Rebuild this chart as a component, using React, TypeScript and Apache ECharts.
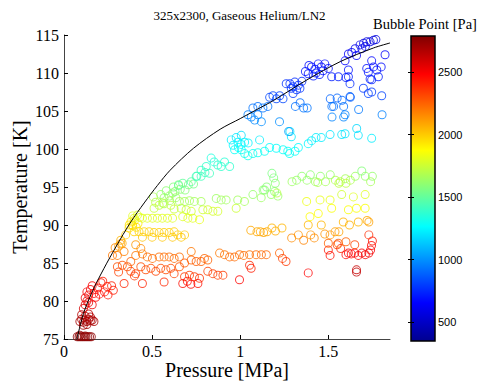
import React, { useEffect, useRef } from 'react';
import * as echarts from 'echarts';

type Pt = [number, number, number]; // [pressure MPa, temperature K, bubble point Pa]

const chartTitle = '325x2300, Gaseous Helium/LN2';
const colorbarTitle = 'Bubble Point [Pa]';
const xAxisName = 'Pressure [MPa]';
const yAxisName = 'Temperature [K]';

const pressureTicks = [0, 0.5, 1, 1.5];
const colorbarTicks = [500, 1000, 1500, 2000, 2500];
const bubbleMin = 348;
const bubbleMax = 2788;
const jetColors = ['#00008F', '#0000FF', '#0080FF', '#00FFFF', '#80FF80', '#FFFF00', '#FF8000', '#FF0000', '#800000'];

// saturation curve
const curveP = [0.072, 0.114, 0.17, 0.227, 0.294, 0.379, 0.455, 0.53, 0.602, 0.735, 0.886, 1.0, 1.095, 1.19, 1.379, 1.568, 1.757, 1.85];
const curveT = [74.9, 78.6, 81.7, 84.3, 87.1, 90.4, 92.9, 95.2, 97.2, 100.1, 102.6, 104.0, 105.2, 106.4, 109.1, 111.5, 113.3, 113.95];

const band75K: Pt[] = [
  [0.075, 75.3, 2760], [0.085, 75.3, 2760], [0.095, 75.3, 2760], [0.105, 75.3, 2760], [0.115, 75.3, 2760],
  [0.125, 75.3, 2760], [0.135, 75.3, 2750], [0.145, 75.3, 2750], [0.155, 75.3, 2750], [0.09, 75.5, 2740], [0.12, 75.4, 2740],
];

const band77K: Pt[] = [
  [0.09, 77.3, 2700], [0.1, 77.6, 2690], [0.11, 77.2, 2700], [0.12, 77.5, 2690], [0.13, 77.3, 2700],
  [0.14, 77.6, 2680], [0.15, 77.4, 2690], [0.16, 77.5, 2680], [0.17, 77.3, 2690], [0.1, 78.2, 2660],
  [0.12, 78.0, 2660], [0.14, 78.3, 2650], [0.11, 76.8, 2710], [0.13, 76.9, 2710], [0.15, 77.9, 2670],
];

const band80K: Pt[] = [
  [0.11, 79.0, 2580], [0.12, 79.5, 2560], [0.13, 80.0, 2540], [0.12, 80.4, 2530], [0.14, 80.8, 2520],
  [0.13, 81.2, 2510], [0.15, 81.5, 2500], [0.16, 82.0, 2490], [0.14, 79.8, 2540], [0.17, 81.0, 2480],
  [0.19, 81.7, 2450], [0.21, 82.4, 2430], [0.23, 81.2, 2440], [0.25, 80.8, 2440], [0.27, 82.0, 2410],
  [0.28, 81.4, 2420], [0.22, 82.6, 2420], [0.18, 80.5, 2480], [0.16, 79.5, 2520], [0.2, 80.9, 2460], [0.245, 81.9, 2430],
];

const band83K: Pt[] = [
  [0.303, 84.5, 2300], [0.331, 84.7, 2290], [0.36, 84.5, 2300], [0.379, 83.9, 2320], [0.407, 83.6, 2330],
  [0.436, 84.5, 2300], [0.464, 84.1, 2310], [0.493, 84.3, 2300], [0.521, 83.9, 2320], [0.549, 84.3, 2300],
  [0.578, 84.1, 2310], [0.606, 84.3, 2300], [0.341, 82.3, 2400], [0.445, 82.3, 2400], [0.568, 82.5, 2390],
  [0.625, 83.6, 2330], [0.4, 83.3, 2340], [0.31, 83.8, 2330], [0.655, 84.5, 2280], [0.684, 83.2, 2350],
  [0.712, 83.4, 2340], [0.74, 83.2, 2350], [0.769, 83.0, 2360], [0.674, 82.3, 2450], [0.76, 82.3, 2450],
  [0.816, 83.9, 2330], [0.845, 83.6, 2340], [0.873, 83.4, 2340], [0.902, 83.4, 2340], [0.996, 82.8, 2470],
  [0.72, 82.2, 2460], [0.7, 82.6, 2440], [1.053, 84.7, 2380], [1.062, 84.3, 2420], [1.386, 83.7, 2480],
  [1.66, 84.1, 2620], [1.66, 83.8, 2630],
];

const band86K: Pt[] = [
  [0.275, 86.0, 2200], [0.303, 86.0, 2200], [0.341, 86.5, 2180], [0.379, 85.2, 2250], [0.407, 86.0, 2200],
  [0.436, 86.9, 2150], [0.445, 86.2, 2200], [0.473, 85.8, 2220], [0.502, 85.6, 2230], [0.54, 85.8, 2220],
  [0.568, 85.8, 2220], [0.597, 85.8, 2220], [0.625, 85.6, 2230], [0.407, 87.4, 2120], [0.29, 87.0, 2150],
  [0.32, 87.5, 2120], [0.655, 85.8, 2220], [0.684, 85.0, 2270], [0.722, 86.5, 2200], [0.722, 85.4, 2250],
  [0.75, 85.2, 2260], [0.778, 85.2, 2260], [0.797, 85.6, 2240], [0.816, 85.4, 2250], [0.883, 86.3, 2200],
  [0.911, 86.1, 2210], [0.94, 85.8, 2230], [0.968, 85.8, 2230], [0.996, 86.1, 2220], [1.02, 86.0, 2220],
  [1.053, 86.1, 2220], [1.09, 86.1, 2230], [1.12, 86.1, 2230], [1.148, 86.1, 2240], [1.223, 86.3, 2250],
  [1.24, 85.6, 2330], [1.26, 85.2, 2350], [1.5, 86.7, 2420], [1.51, 86.0, 2450], [1.55, 87.4, 2330],
  [1.57, 86.9, 2380], [1.614, 86.3, 2480], [1.65, 86.3, 2490], [1.69, 86.3, 2500], [1.73, 86.3, 2520],
  [1.74, 86.7, 2500], [1.745, 87.3, 2470], [1.75, 87.9, 2430], [1.73, 88.7, 2380], [1.6, 86.1, 2470],
  [1.63, 86.2, 2480], [1.67, 86.0, 2500], [1.71, 86.1, 2510],
];

const band89K: Pt[] = [
  [0.322, 88.0, 2050], [0.35, 88.7, 2000], [0.369, 89.6, 1960], [0.388, 90.0, 1940], [0.398, 89.1, 1980],
  [0.426, 89.1, 1980], [0.455, 89.1, 1980], [0.483, 89.1, 1980], [0.511, 89.0, 1990], [0.54, 89.0, 1990],
  [0.568, 89.0, 1990], [0.597, 89.0, 1990], [0.625, 89.1, 1980], [0.445, 88.4, 2010], [0.5, 88.4, 2010],
  [0.558, 88.4, 2010], [0.616, 88.4, 2010], [0.646, 88.7, 2000], [0.665, 88.4, 2010], [0.684, 88.7, 2000],
  [0.38, 90.4, 1920], [0.39, 89.9, 1950], [0.4, 90.6, 1920], [0.41, 89.7, 1950], [0.42, 90.2, 1930],
  [0.37, 90.0, 1940], [0.33, 87.6, 2080], [0.31, 87.2, 2100],
  [1.06, 89.3, 2080], [1.095, 89.1, 2080], [1.114, 89.1, 2080], [1.133, 89.0, 2090], [1.152, 89.1, 2080],
  [1.18, 89.6, 2050], [1.2, 89.2, 2070], [1.237, 89.6, 2050], [1.292, 88.3, 2150], [1.33, 88.7, 2130],
  [1.36, 88.0, 2170], [1.386, 90.0, 2050], [1.4, 88.7, 2130], [1.42, 88.3, 2150], [1.46, 90.0, 2050],
  [1.48, 88.8, 2130], [1.51, 88.7, 2130], [1.538, 89.1, 2100], [1.56, 89.1, 2100], [1.585, 90.4, 2050],
  [1.62, 90.0, 2060], [1.67, 90.4, 2050], [1.72, 90.6, 2080], [1.73, 90.4, 2100], [1.5, 87.6, 2250],
  [1.557, 87.6, 2250], [1.6, 87.8, 2250], [1.65, 87.4, 2320],
];

const band91K: Pt[] = [
  [0.398, 90.9, 1800], [0.417, 91.3, 1790], [0.445, 90.9, 1800], [0.473, 90.9, 1800], [0.502, 90.9, 1800],
  [0.53, 90.9, 1800], [0.558, 90.9, 1800], [0.587, 90.9, 1800], [0.616, 90.9, 1800], [0.43, 91.0, 1800],
  [0.39, 91.2, 1800], [0.511, 92.2, 1740], [0.54, 92.6, 1720], [0.568, 92.8, 1700], [0.606, 92.6, 1720],
  [0.625, 92.1, 1740], [0.665, 92.2, 1740], [0.693, 92.0, 1750], [0.722, 91.8, 1760], [0.674, 91.1, 1790],
  [0.703, 90.9, 1800], [0.731, 90.9, 1800], [0.769, 90.7, 1820], [0.788, 92.0, 1760], [0.816, 92.0, 1760],
  [0.845, 91.8, 1770], [0.873, 91.8, 1770], [0.977, 92.2, 1750],
  [1.396, 91.1, 1880], [1.443, 91.5, 1870], [1.519, 92.2, 1860], [1.614, 92.0, 1860], [1.66, 92.2, 1860],
  [1.709, 92.2, 1860], [1.377, 93.1, 1830], [1.453, 93.3, 1820], [1.51, 93.3, 1820], [1.576, 94.0, 1760],
  [1.642, 93.7, 1800], [1.709, 94.0, 1800],
];

const band94K: Pt[] = [
  [0.549, 94.0, 1620], [0.568, 93.6, 1640], [0.597, 93.8, 1630], [0.616, 94.2, 1610], [0.635, 93.6, 1640],
  [0.507, 93.7, 1680], [0.621, 95.0, 1580], [0.65, 95.3, 1560], [0.66, 94.7, 1590], [0.687, 94.6, 1590],
  [0.706, 95.3, 1560], [0.735, 95.4, 1550], [0.52, 93.0, 1700], [0.56, 92.9, 1690], [0.6, 93.2, 1660],
  [0.58, 94.5, 1600], [0.63, 94.4, 1600], [0.655, 93.1, 1660], [0.684, 93.1, 1660], [0.712, 93.2, 1650],
  [0.74, 93.1, 1660], [0.778, 93.1, 1660], [0.864, 93.5, 1640], [0.892, 93.3, 1650], [0.92, 93.3, 1650],
  [0.986, 93.3, 1650], [1.024, 93.1, 1660], [1.072, 94.0, 1620], [1.119, 93.6, 1640], [1.138, 94.6, 1600],
  [1.176, 94.0, 1620], [1.195, 94.4, 1600], [1.214, 93.8, 1630], [1.13, 94.6, 1600], [1.15, 95.0, 1590],
  [1.208, 94.2, 1700],
];

const band96K: Pt[] = [
  [1.18, 96.8, 1560], [1.19, 96.2, 1580], [1.199, 95.5, 1600], [1.294, 95.7, 1640], [1.32, 95.9, 1630],
  [1.35, 96.4, 1610], [1.379, 95.9, 1630], [1.398, 96.6, 1600], [1.427, 95.7, 1640], [1.455, 96.4, 1610],
  [1.484, 95.7, 1660], [1.511, 96.6, 1620], [1.54, 95.9, 1680], [1.568, 95.7, 1700], [1.597, 96.1, 1660],
  [1.625, 95.9, 1680], [1.653, 96.4, 1640], [1.69, 97.1, 1580], [1.71, 96.4, 1620], [1.74, 95.7, 1660],
  [1.75, 96.4, 1620], [1.44, 95.6, 1680], [1.56, 95.5, 1710], [1.6, 95.5, 1710],
  [0.75, 96.4, 1420], [0.778, 97.2, 1400], [0.807, 97.7, 1390], [0.835, 98.8, 1340], [0.852, 98.3, 1360],
  [0.873, 97.9, 1380], [0.892, 97.7, 1390], [0.911, 98.3, 1360], [0.94, 97.7, 1380], [0.826, 96.8, 1420],
  [0.778, 96.4, 1430], [0.722, 95.7, 1480], [0.674, 95.5, 1500], [0.65, 95.2, 1520], [0.754, 96.4, 1430],
  [0.8, 96.9, 1410],
];

const band100K: Pt[] = [
  [0.949, 101.2, 1220], [0.977, 101.5, 1210], [1.006, 101.8, 1190], [0.987, 100.9, 1240], [1.006, 100.6, 1250],
  [1.025, 100.9, 1240], [1.045, 100.8, 1240], [1.006, 99.9, 1280], [1.025, 99.4, 1300], [0.968, 99.9, 1280],
  [1.11, 101.2, 1220], [1.044, 99.1, 1310], [1.072, 99.4, 1300], [1.1, 99.5, 1300], [1.138, 99.7, 1290],
  [1.167, 100.2, 1270], [1.205, 100.1, 1270], [1.243, 99.9, 1280], [1.27, 99.7, 1280], [1.282, 102.3, 1180],
  [1.29, 101.6, 1210], [1.311, 99.7, 1280], [1.33, 100.2, 1260], [1.386, 100.7, 1240], [1.405, 101.1, 1230],
  [1.43, 101.5, 1220], [1.46, 101.5, 1220], [1.51, 101.9, 1200], [1.576, 101.9, 1200], [1.595, 102.0, 1200],
  [1.661, 102.7, 1170], [1.67, 101.8, 1200], [1.746, 101.4, 1220], [1.28, 99.4, 1290], [0.96, 100.5, 1250],
  [0.99, 100.2, 1260],
];

const band105K: Pt[] = [
  [1.044, 104.5, 960], [1.063, 104.2, 970], [1.082, 103.8, 980], [1.1, 104.5, 960], [1.12, 103.6, 990],
  [1.072, 105.4, 930], [1.1, 105.6, 920], [1.129, 105.4, 930], [1.157, 105.6, 920], [1.223, 103.6, 990],
  [1.275, 102.3, 1040], [1.313, 105.6, 920], [1.34, 106.1, 900], [1.36, 105.4, 930], [1.38, 105.4, 930],
  [1.511, 106.6, 890], [1.52, 105.6, 920], [1.521, 104.2, 970], [1.578, 106.4, 900], [1.587, 105.6, 920],
  [1.587, 104.2, 970], [1.625, 106.8, 880], [1.672, 105.2, 940], [1.805, 104.5, 960], [1.53, 105.6, 920],
  [1.55, 106.7, 890], [1.595, 104.5, 960], [1.623, 106.9, 880],
];

const band110K: Pt[] = [
  [1.167, 106.8, 820], [1.186, 107.0, 810], [1.205, 106.6, 820], [1.224, 107.0, 800], [1.243, 106.6, 820],
  [1.261, 108.6, 760], [1.282, 108.6, 760], [1.3, 108.2, 770], [1.31, 108.8, 750], [1.33, 108.4, 760],
  [1.339, 108.0, 770], [1.32, 107.8, 780], [1.3, 107.3, 790], [1.386, 109.9, 700], [1.405, 110.8, 680],
  [1.424, 110.5, 690], [1.443, 111.2, 670], [1.46, 110.8, 680], [1.48, 111.2, 670], [1.415, 109.6, 710],
  [1.45, 109.8, 700], [1.37, 110.2, 700], [1.39, 111.0, 680], [1.43, 110.0, 700], [1.47, 110.3, 690],
  [1.5, 110.6, 680], [1.519, 109.5, 720], [1.557, 109.5, 720], [1.614, 110.4, 690], [1.614, 109.5, 720],
  [1.623, 108.6, 750], [1.595, 111.6, 650], [1.614, 112.5, 630], [1.633, 112.7, 620], [1.652, 113.2, 610],
  [1.66, 112.3, 630], [1.68, 113.7, 590], [1.7, 113.9, 580], [1.718, 114.1, 570], [1.737, 114.1, 570],
  [1.756, 114.3, 560], [1.77, 114.4, 560], [1.69, 113.2, 600], [1.71, 113.5, 590], [1.718, 110.6, 690],
  [1.746, 111.6, 660], [1.756, 110.8, 680], [1.775, 110.4, 690], [1.8, 110.8, 680], [1.822, 112.4, 640],
  [1.784, 109.5, 720], [1.746, 109.1, 730], [1.727, 110.1, 700], [1.737, 109.2, 720], [1.699, 108.0, 780],
  [1.727, 107.3, 800], [1.746, 107.5, 790], [1.803, 107.0, 810], [1.6, 109.4, 720], [1.35, 108.9, 750],
  [1.29, 108.0, 770],
];

const allPoints: Pt[] = [
  ...band75K, ...band77K, ...band80K, ...band83K, ...band86K, ...band89K,
  ...band91K, ...band94K, ...band96K, ...band100K, ...band105K, ...band110K,
];

// open circle drawn as a ring so overlapping markers stay see-through
const ringSymbol = 'path://M0,-10A10,10,0,1,1,0,10A10,10,0,1,1,0,-10ZM0,-7.8A7.8,7.8,0,1,0,0,7.8A7.8,7.8,0,1,0,0,-7.8Z';

const serif = 'Liberation Serif';
const sans = 'Liberation Sans';

export default function App() {
  const ref = useRef<HTMLDivElement>(null);
  useEffect(() => {
    if (!ref.current) return;
    const chart = echarts.init(ref.current, null, { renderer: 'svg' });
    const gradientStops = jetColors
      .slice()
      .reverse()
      .map((c, i, arr) => ({ offset: i / (arr.length - 1), color: c }));
    const serifStyle = { fontFamily: serif, color: '#000', fontWeight: 'normal' as const };
    chart.setOption({
      animation: false,
      backgroundColor: '#fff',
      textStyle: { fontFamily: serif, color: '#000' },
      title: [
        {
          text: chartTitle,
          left: 'center',
          top: 4,
          textStyle: { ...serifStyle, fontSize: 13 },
        },
        {
          text: colorbarTitle,
          left: 368,
          top: 11,
          textStyle: { ...serifStyle, fontSize: 14.5 },
        },
      ],
      grid: [
        { left: 64, right: 89, top: 35, bottom: 42, show: false, containLabel: false, outerBoundsMode: 'none' },
        {
          left: 411, right: 44, top: 36, bottom: 40, show: true, containLabel: false, outerBoundsMode: 'none',
          backgroundColor: { type: 'linear', x: 0, y: 0, x2: 0, y2: 1, colorStops: gradientStops },
          borderColor: '#000', borderWidth: 1.5,
        },
      ],
      xAxis: [
        {
          gridIndex: 0, type: 'value', min: 0, max: 1.85, interval: 0.5,
          name: xAxisName, nameLocation: 'middle', nameGap: 21, nameMoveOverlap: false,
          nameTextStyle: { ...serifStyle, fontSize: 20 },
          axisLine: { onZero: false, lineStyle: { color: '#444', width: 1 } },
          axisTick: { inside: true, length: 4, customValues: pressureTicks, lineStyle: { color: '#000' } },
          axisLabel: {
            customValues: pressureTicks, ...serifStyle, fontSize: 16, margin: 4,
            formatter: (v: number) => String(v),
          },
          splitLine: { show: false },
        },
        { gridIndex: 1, type: 'value', min: 0, max: 1, show: false },
      ],
      yAxis: [
        {
          gridIndex: 0, type: 'value', min: 75, max: 115, interval: 5,
          name: yAxisName, nameLocation: 'middle', nameGap: 34, nameMoveOverlap: false,
          nameTextStyle: { ...serifStyle, fontSize: 20 },
          axisLine: { onZero: false, lineStyle: { color: '#444', width: 1 } },
          axisTick: { inside: true, length: 4, lineStyle: { color: '#000' } },
          axisLabel: { ...serifStyle, fontSize: 16, margin: 5, formatter: (v: number) => String(v) },
          splitLine: { show: false },
        },
        {
          gridIndex: 1, type: 'value', position: 'right', min: bubbleMin, max: bubbleMax,
          axisLine: { show: false },
          axisTick: { inside: true, length: 3, customValues: colorbarTicks, lineStyle: { color: '#000' } },
          axisLabel: {
            customValues: colorbarTicks, fontFamily: sans, fontSize: 11, color: '#000', margin: 3,
            formatter: (v: number) => String(v),
          },
          splitLine: { show: false },
        },
        {
          gridIndex: 1, type: 'value', position: 'left', min: bubbleMin, max: bubbleMax,
          axisLine: { show: false },
          axisTick: { inside: true, length: 3, customValues: colorbarTicks, lineStyle: { color: '#000' } },
          axisLabel: { show: false },
          splitLine: { show: false },
        },
      ],
      visualMap: {
        type: 'continuous', show: false, dimension: 2, seriesIndex: 0,
        min: bubbleMin, max: bubbleMax, inRange: { color: jetColors },
      },
      series: [
        {
          type: 'scatter', xAxisIndex: 0, yAxisIndex: 0,
          symbol: ringSymbol, symbolSize: 9,
          data: allPoints,
          z: 2,
        },
        {
          type: 'line', xAxisIndex: 0, yAxisIndex: 0,
          data: curveP.map((p, i) => [p, curveT[i]]),
          showSymbol: false, smooth: 0.3,
          lineStyle: { color: '#000', width: 1 },
          z: 3,
        },
      ],
    });
    return () => chart.dispose();
  }, []);
  return <div ref={ref} style={{ position: 'fixed', left: 0, top: 0, width: 479, height: 381 }} />;
}
